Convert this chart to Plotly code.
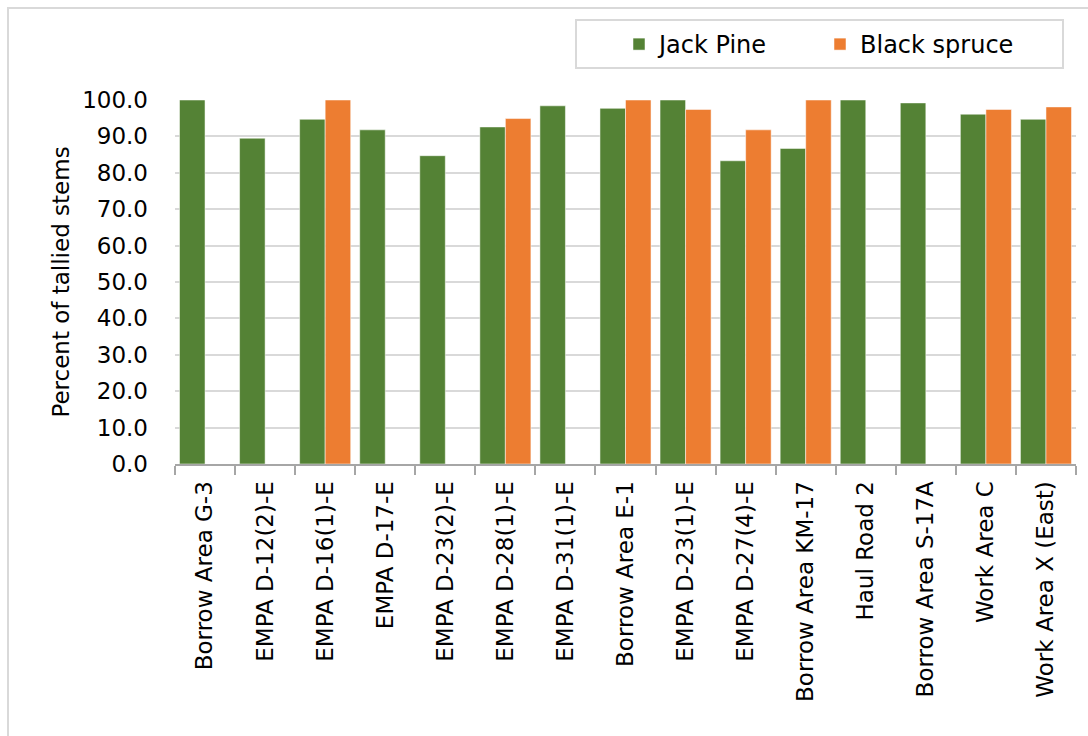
import plotly.graph_objects as go

# Survey locations along the x axis
locations = [
    "Borrow Area G-3", "EMPA D-12(2)-E", "EMPA D-16(1)-E", "EMPA D-17-E",
    "EMPA D-23(2)-E", "EMPA D-28(1)-E", "EMPA D-31(1)-E", "Borrow Area E-1",
    "EMPA D-23(1)-E", "EMPA D-27(4)-E", "Borrow Area KM-17", "Haul Road 2",
    "Borrow Area S-17A", "Work Area C", "Work Area X (East)",
]

# Percent of tallied stems per species (None = not tallied)
jack_pine = [100.0, 89.5, 94.7, 91.8, 84.7, 92.6, 98.4, 97.7,
             100.0, 83.3, 86.7, 100.0, 99.2, 96.1, 94.7]
black_spruce = [None, None, 100.0, None, None, 94.9, None, 100.0,
                97.4, 91.8, 100.0, None, None, 97.4, 98.1]

y_ticks = [0, 10, 20, 30, 40, 50, 60, 70, 80, 90, 100]

FONT = "DejaVu Sans"
GREEN = "#548235"
ORANGE = "#ED7D31"
FRAME = "#d9d9d9"

fig = go.Figure()
fig.add_trace(go.Bar(
    x=locations, y=jack_pine, name="Jack Pine",
    marker=dict(color=GREEN, line=dict(color="rgba(255,255,255,0.5)", width=1)),
))
fig.add_trace(go.Bar(
    x=locations, y=black_spruce, name="Black spruce",
    marker=dict(color=ORANGE, line=dict(color="rgba(255,255,255,0.5)", width=1)),
))

W, H = 1088, 736
L, R, T, B = 175, W - 1076, 100, H - 464
pw = W - L - R
ph = H - T - B


def px_x(x):
    return (x - L) / pw


def px_y(y):
    return 1 - (y - T) / ph


fig.update_layout(
    width=W, height=H,
    margin=dict(l=L, r=R, t=T, b=B, pad=0, autoexpand=False),
    paper_bgcolor="white", plot_bgcolor="white",
    barmode="group", bargap=0.15, bargroupgap=0,
    font=dict(family=FONT, color="#000000"),
    legend=dict(
        orientation="h",
        x=px_x(619), xanchor="left",
        y=px_y(22), yanchor="top",
        borderwidth=0, bgcolor="rgba(0,0,0,0)",
        font=dict(size=24, family=FONT, color="#000000"),
        itemwidth=30, entrywidth=156, entrywidthmode="pixels",
    ),
    xaxis=dict(
        type="category",
        tickangle=-90,
        tickfont=dict(size=23, family=FONT, color="#000000"),
        ticklabelstandoff=6,
        showline=True, linecolor="#a6a6a6", linewidth=2,
        ticks="outside", tickson="boundaries", ticklen=9,
        tickcolor="#a6a6a6", tickwidth=2,
        showgrid=False,
    ),
    yaxis=dict(
        range=[0, 100],
        tickvals=y_ticks,
        ticktext=[f"{v:.1f}" for v in y_ticks],
        tickfont=dict(size=23, family=FONT, color="#000000"),
        ticklabelstandoff=26,
        showgrid=True, gridcolor=FRAME, gridwidth=2,
        showline=False, zeroline=False,
        title=dict(text="Percent of tallied stems", standoff=6,
                   font=dict(size=23, family=FONT, color="#000000")),
    ),
)

# Chart-area frame (left and top edges fall inside the page)
fig.add_shape(type="rect", xref="paper", yref="paper",
              x0=px_x(8), x1=px_x(W + 20),
              y0=px_y(H + 20), y1=px_y(8),
              line=dict(color=FRAME, width=2), layer="below")

# Legend frame
fig.add_shape(type="rect", xref="paper", yref="paper",
              x0=px_x(576), x1=px_x(1063),
              y0=px_y(68), y1=px_y(20),
              line=dict(color=FRAME, width=2), layer="below")

fig.write_html("out.html")
